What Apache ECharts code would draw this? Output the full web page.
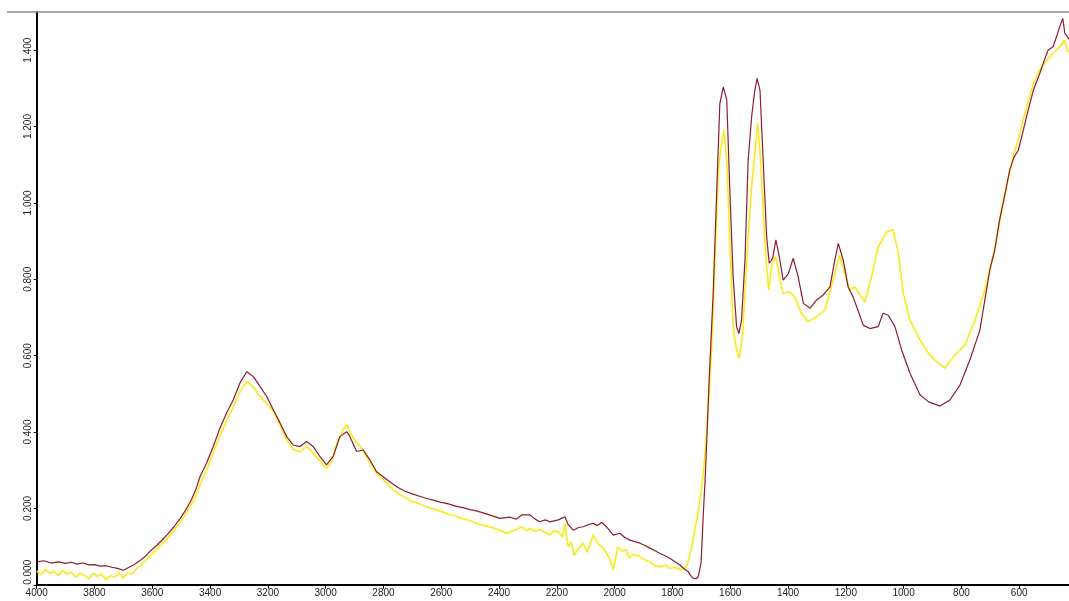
<!DOCTYPE html>
<html>
<head>
<meta charset="utf-8">
<title>IR spectra</title>
<script src="https://cdn.jsdelivr.net/npm/echarts/dist/echarts.min.js"></script>
<style>
  html, body { margin: 0; padding: 0; background: #ffffff; overflow: hidden; }
  #chart { width: 1069px; height: 601px; }
</style>
</head>
<body>
<div id="chart"></div>
<script>
// Wavenumber (cm-1) and absorbance of the dark red spectrum
const redWavenumber = [
  4000, 3975, 3950, 3925, 3900, 3880, 3860, 3840, 3820, 3800, 3780, 3760, 3740, 3720, 3700,
  3685, 3665, 3645, 3625, 3605, 3585, 3565, 3545, 3525, 3505, 3485, 3465, 3450, 3435, 3412,
  3389, 3366, 3343, 3320, 3297, 3273, 3250, 3227, 3204, 3181, 3158, 3135, 3112, 3089, 3066,
  3043, 3020, 2997, 2974, 2951, 2927, 2916, 2893, 2870, 2847, 2824, 2801, 2775, 2750, 2725,
  2700, 2675, 2650, 2625, 2600, 2575, 2550, 2525, 2500, 2475, 2450, 2425, 2397, 2362, 2340,
  2322, 2293, 2275, 2259, 2240, 2224, 2195, 2172, 2161, 2143, 2125, 2109, 2090, 2074, 2060,
  2045, 2028, 2015, 2005, 1982, 1965, 1947, 1930, 1912, 1895, 1878, 1860, 1843, 1825, 1808,
  1790, 1774, 1760, 1745, 1735, 1728, 1718, 1711, 1701, 1693, 1687, 1680, 1673, 1659, 1647,
  1636, 1624, 1612, 1601, 1590, 1578, 1570, 1561, 1549, 1538, 1526, 1515, 1507, 1497, 1486,
  1474, 1465, 1453, 1442, 1430, 1417, 1399, 1382, 1365, 1347, 1324, 1301, 1278, 1255, 1238,
  1226, 1209, 1192, 1175, 1158, 1140, 1117, 1088, 1071, 1053, 1030, 1007, 978, 943, 913,
  874, 840, 805, 771, 736, 702, 685, 668, 650, 633, 618, 603, 586, 569, 551,
  529, 511, 500, 483, 471, 460, 449, 442, 433, 420
];
const redAbsorbance = [
  0.060, 0.063, 0.057, 0.060, 0.056, 0.059, 0.054, 0.057, 0.052, 0.053, 0.049, 0.050, 0.046, 0.043, 0.038,
  0.044, 0.052, 0.062, 0.074, 0.090, 0.103, 0.118, 0.134, 0.152, 0.172, 0.195, 0.222, 0.248, 0.283, 0.319,
  0.362, 0.410, 0.450, 0.484, 0.528, 0.558, 0.545, 0.519, 0.493, 0.458, 0.424, 0.388, 0.366, 0.362, 0.375,
  0.362, 0.336, 0.314, 0.336, 0.388, 0.401, 0.388, 0.349, 0.353, 0.327, 0.296, 0.283, 0.268, 0.255, 0.245,
  0.238, 0.232, 0.226, 0.221, 0.216, 0.212, 0.206, 0.202, 0.197, 0.193, 0.187, 0.181, 0.174, 0.177, 0.172,
  0.183, 0.183, 0.172, 0.165, 0.170, 0.165, 0.170, 0.178, 0.158, 0.143, 0.150, 0.152, 0.158, 0.161, 0.155,
  0.163, 0.152, 0.140, 0.130, 0.135, 0.124, 0.117, 0.113, 0.109, 0.103, 0.096, 0.089, 0.082, 0.076, 0.069,
  0.060, 0.052, 0.042, 0.034, 0.022, 0.017, 0.016, 0.021, 0.057, 0.188, 0.274, 0.400, 0.536, 0.763, 1.025,
  1.260, 1.304, 1.269, 1.025, 0.807, 0.676, 0.658, 0.693, 0.850, 1.112, 1.225, 1.295, 1.326, 1.295, 1.112,
  0.911, 0.842, 0.855, 0.903, 0.859, 0.798, 0.815, 0.855, 0.807, 0.737, 0.724, 0.746, 0.759, 0.780, 0.850,
  0.894, 0.850, 0.780, 0.754, 0.719, 0.680, 0.671, 0.676, 0.711, 0.706, 0.676, 0.615, 0.554, 0.497, 0.479,
  0.468, 0.484, 0.523, 0.588, 0.667, 0.824, 0.876, 0.955, 1.020, 1.086, 1.120, 1.138, 1.190, 1.243, 1.295,
  1.339, 1.378, 1.400, 1.409, 1.435, 1.461, 1.483, 1.444, 1.435, 1.420
];

// Wavenumber (cm-1) and absorbance of the yellow spectrum
const yellowWavenumber = [
  4000, 3985, 3970, 3955, 3940, 3925, 3910, 3895, 3880, 3865, 3850, 3835, 3820, 3805, 3790,
  3775, 3760, 3745, 3730, 3715, 3700, 3685, 3670, 3655, 3640, 3625, 3605, 3585, 3565, 3545,
  3525, 3505, 3485, 3465, 3450, 3435, 3412, 3389, 3366, 3343, 3320, 3297, 3273, 3250, 3227,
  3204, 3181, 3158, 3135, 3112, 3089, 3066, 3043, 3020, 2997, 2980, 2960, 2940, 2927, 2915,
  2900, 2880, 2865, 2845, 2825, 2800, 2775, 2750, 2725, 2700, 2675, 2650, 2625, 2600, 2575,
  2550, 2525, 2500, 2475, 2450, 2425, 2397, 2375, 2362, 2340, 2322, 2305, 2293, 2275, 2259,
  2240, 2224, 2210, 2195, 2180, 2172, 2161, 2150, 2140, 2125, 2109, 2095, 2074, 2060, 2045,
  2028, 2015, 2005, 1995, 1990, 1975, 1960, 1950, 1935, 1912, 1895, 1878, 1860, 1843, 1825,
  1808, 1790, 1774, 1766, 1749, 1733, 1716, 1698, 1685, 1673, 1664, 1653, 1641, 1630, 1622,
  1612, 1601, 1590, 1578, 1569, 1557, 1543, 1526, 1515, 1505, 1494, 1480, 1467, 1455, 1442,
  1430, 1417, 1394, 1377, 1354, 1330, 1301, 1272, 1244, 1222, 1203, 1186, 1169, 1146, 1134,
  1111, 1088, 1059, 1036, 1018, 1001, 978, 943, 914, 891, 857, 840, 822, 788, 753,
  719, 685, 668, 650, 633, 618, 600, 574, 551, 529, 505, 483, 460, 444, 433, 420
];
const yellowAbsorbance = [
  0.036, 0.026, 0.040, 0.030, 0.035, 0.024, 0.038, 0.028, 0.033, 0.020, 0.030, 0.025, 0.016, 0.030, 0.022,
  0.028, 0.013, 0.024, 0.020, 0.030, 0.018, 0.032, 0.028, 0.042, 0.050, 0.062, 0.078, 0.092, 0.108, 0.124,
  0.142, 0.162, 0.185, 0.210, 0.232, 0.262, 0.300, 0.345, 0.390, 0.430, 0.465, 0.505, 0.532, 0.518, 0.493,
  0.474, 0.455, 0.418, 0.380, 0.355, 0.348, 0.362, 0.345, 0.325, 0.305, 0.322, 0.372, 0.405, 0.420, 0.398,
  0.380, 0.362, 0.344, 0.318, 0.294, 0.275, 0.255, 0.240, 0.228, 0.218, 0.212, 0.204, 0.198, 0.192, 0.185,
  0.180, 0.172, 0.168, 0.160, 0.155, 0.150, 0.143, 0.135, 0.139, 0.145, 0.152, 0.142, 0.148, 0.140, 0.146,
  0.136, 0.130, 0.142, 0.139, 0.125, 0.161, 0.100, 0.112, 0.078, 0.095, 0.109, 0.085, 0.130, 0.110, 0.100,
  0.083, 0.065, 0.039, 0.075, 0.100, 0.088, 0.091, 0.070, 0.080, 0.074, 0.065, 0.060, 0.050, 0.047, 0.052,
  0.043, 0.045, 0.040, 0.039, 0.052, 0.100, 0.170, 0.257, 0.360, 0.500, 0.620, 0.850, 1.086, 1.156, 1.191,
  1.112, 0.894, 0.676, 0.615, 0.593, 0.658, 0.850, 1.042, 1.130, 1.208, 1.103, 0.894, 0.772, 0.842, 0.859,
  0.807, 0.763, 0.767, 0.754, 0.711, 0.689, 0.702, 0.719, 0.798, 0.863, 0.815, 0.772, 0.780, 0.754, 0.741,
  0.807, 0.885, 0.924, 0.929, 0.868, 0.763, 0.693, 0.641, 0.606, 0.588, 0.567, 0.585, 0.602, 0.628, 0.693,
  0.772, 0.876, 0.950, 1.025, 1.080, 1.130, 1.175, 1.252, 1.313, 1.348, 1.374, 1.391, 1.409, 1.426, 1.400, 1.390
];

// Axis ticks
const xTickValues = [4000, 3800, 3600, 3400, 3200, 3000, 2800, 2600, 2400, 2200, 2000, 1800, 1600, 1400, 1200, 1000, 800, 600, 400];
const yTickValues = [0, 0.2, 0.4, 0.6, 0.8, 1.0, 1.2, 1.4];

const zip = (xs, ys) => xs.map((x, i) => [x, ys[i]]);

const chart = echarts.init(document.getElementById('chart'), null, { renderer: 'canvas' });

chart.setOption({
  animation: false,
  backgroundColor: '#ffffff',
  textStyle: { fontFamily: '"Liberation Sans", Arial, sans-serif' },
  // the plot runs a little past the right edge, so 400 sits just off-canvas
  grid: {
    left: 36.7, width: 1040.3, top: 12, bottom: 16.2,
    containLabel: false,
    outerBoundsMode: 'none'
  },
  xAxis: {
    type: 'value',
    inverse: true,
    min: 400,
    max: 4000,
    interval: 200,
    axisLine: { show: true, onZero: false, lineStyle: { color: '#000000', width: 2 } },
    axisTick: { show: true, length: 4, lineStyle: { color: '#000000', width: 1 }, customValues: xTickValues },
    axisLabel: {
      customValues: xTickValues,
      fontSize: 10,
      color: '#222222',
      margin: 3,
      formatter: v => String(v)
    },
    splitLine: { show: false }
  },
  yAxis: {
    type: 'value',
    min: 0,
    max: 1.5,
    interval: 0.2,
    axisLine: { show: true, onZero: false, lineStyle: { color: '#000000', width: 2 } },
    axisTick: { show: true, length: 3, lineStyle: { color: '#000000', width: 1 }, customValues: yTickValues },
    axisLabel: {
      customValues: yTickValues,
      rotate: 90,
      fontSize: 10,
      color: '#222222',
      margin: 3,
      formatter: v => (Math.abs(v) < 1e-9 ? '{z|0.000}' : v.toFixed(3)),
      rich: { z: { fontSize: 10, color: '#222222', padding: [0, 0, 0, 25] } }
    },
    splitLine: { show: false }
  },
  graphic: [
    {
      type: 'line',
      shape: { x1: 7, y1: 12, x2: 1069, y2: 12 },
      style: { stroke: '#8a8a8a', lineWidth: 1.5 },
      z: 10
    }
  ],
  series: [
    {
      name: 'yellow',
      type: 'line',
      data: zip(yellowWavenumber, yellowAbsorbance),
      showSymbol: false,
      symbol: 'none',
      lineStyle: {
        color: '#f3e826',
        width: 1.4,
        shadowColor: 'rgba(250, 240, 80, 0.55)',
        shadowBlur: 3
      },
      z: 2
    },
    {
      name: 'red',
      type: 'line',
      data: zip(redWavenumber, redAbsorbance),
      showSymbol: false,
      symbol: 'none',
      lineStyle: { color: '#8e1c2e', width: 1.2 },
      z: 3
    }
  ]
});
</script>
</body>
</html>
